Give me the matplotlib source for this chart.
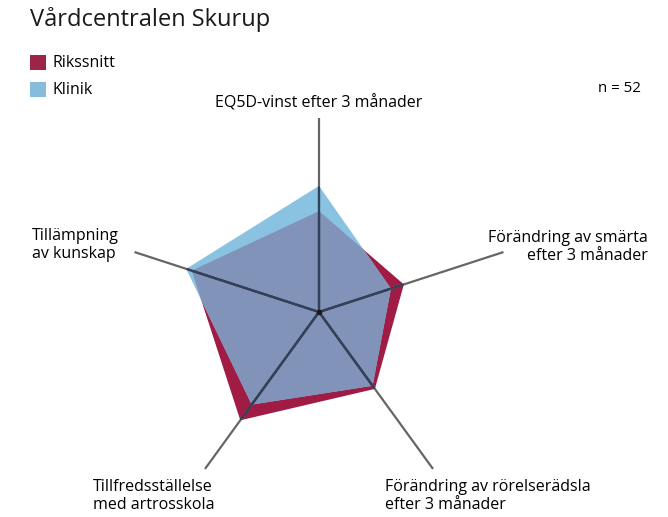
import numpy as np
import matplotlib
matplotlib.use('Agg')
import matplotlib.pyplot as plt
from matplotlib.patches import Polygon, Rectangle

plt.rcParams['font.family'] = ['Open Sans', 'DejaVu Sans']

# data (0-100 along each spoke)
axes_labels = ['EQ5D-vinst efter 3 månader',
               'Förändring av smärta\nefter 3 månader',
               'Förändring av rörelserädsla\nefter 3 månader',
               'Tillfredsställelse\nmed artrosskola',
               'Tillämpning\nav kunskap']
rikssnitt = [52, 46, 49, 69, 69]
klinik = [65, 39, 47, 59, 72]
n_text = 'n = 52'

c_riks = '#a01c45'
c_klin = '#8ac3e2'
c_both = '#8293b9'

W, H = 668, 517
fig = plt.figure(figsize=(W / 100, H / 100), dpi=100)
ax = fig.add_axes([0, 0, 1, 1])
ax.set_xlim(0, W)
ax.set_ylim(H, 0)
ax.axis('off')

cx, cy = 319, 312
R = 194  # spoke length in px for value 100
ang = np.deg2rad(90 - 72 * np.arange(5))  # clockwise from top


def pts(vals):
    v = np.asarray(vals) / 100 * R
    return np.column_stack([cx + v * np.cos(ang), cy - v * np.sin(ang)])


p_riks = Polygon(pts(rikssnitt), closed=True, fc=c_riks, ec='none', zorder=2)
p_klin = Polygon(pts(klinik), closed=True, fc=c_klin, ec='none', zorder=3)
ax.add_patch(p_riks)
ax.add_patch(p_klin)
# overlap area
p_both = Polygon(pts(klinik), closed=True, fc=c_both, ec='none', zorder=4)
ax.add_patch(p_both)
p_both.set_clip_path(p_riks)

# spokes
ends = pts([100] * 5)
for x, y in ends:
    ax.plot([cx, x], [cy, y], color='#666666', lw=1.6, zorder=5,
            solid_capstyle='butt')
    for clip in (p_riks, p_klin):
        ln, = ax.plot([cx, x], [cy, y], color='#33405a', lw=1.6, zorder=6,
                      solid_capstyle='butt')
        ln.set_clip_path(clip)
ax.plot([cx], [cy], 'o', color='#1a1a1a', ms=3, zorder=7)

# title and legend
ax.text(30, 20, 'Vårdcentralen Skurup', fontsize=17, color='#1a1a1a',
        va='center', ha='left')
ax.add_patch(Rectangle((30, 55), 16, 15, fc='#9e2447', ec='none'))
ax.add_patch(Rectangle((30, 82), 16, 15, fc='#86bcdc', ec='none'))
fs = 11.5
ax.text(53, 63, 'Rikssnitt', fontsize=fs, va='center', ha='left')
ax.text(53, 90, 'Klinik', fontsize=fs, va='center', ha='left')
ax.text(641, 89, n_text, fontsize=fs * 0.95, va='center', ha='right')

# spoke labels
ls = 1.1
ax.text(319, 103, axes_labels[0], fontsize=fs, ha='center', va='center')
ax.text(648, 247, axes_labels[1], fontsize=fs, ha='right', va='center',
        linespacing=ls, multialignment='right')
ax.text(385, 496, axes_labels[2], fontsize=fs, ha='left', va='center',
        linespacing=ls)
ax.text(93, 496, axes_labels[3], fontsize=fs, ha='left', va='center',
        linespacing=ls)
ax.text(32, 245, axes_labels[4], fontsize=fs, ha='left', va='center',
        linespacing=ls)

fig.savefig('out.png', dpi=100)
